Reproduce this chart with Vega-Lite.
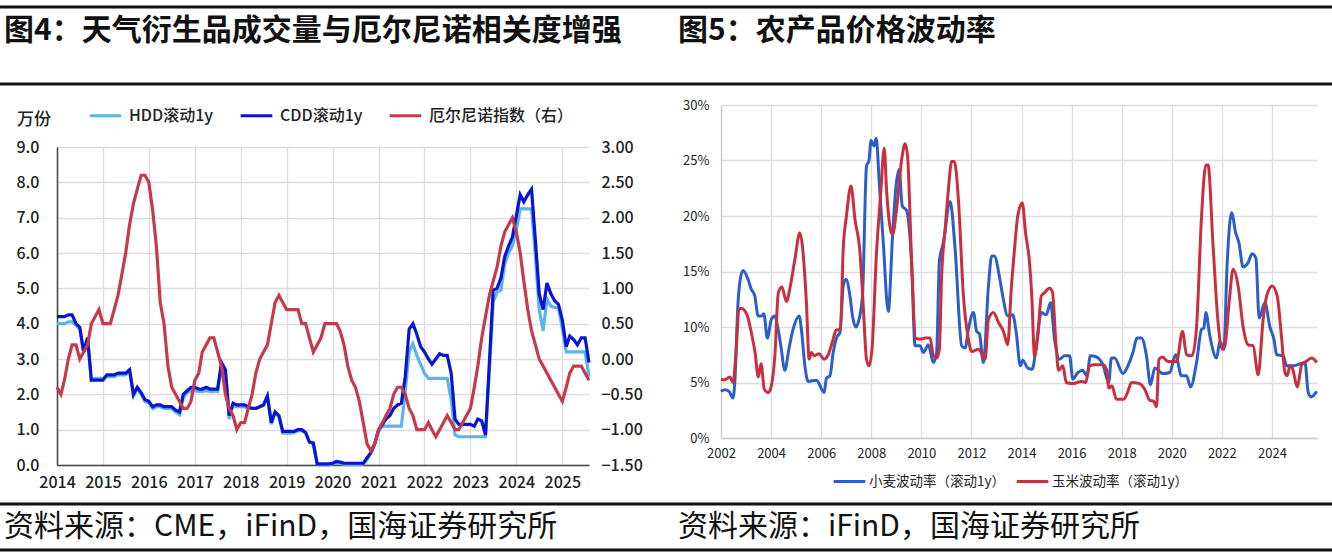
{
"$schema":"https://vega.github.io/schema/vega-lite/v6.json",
"background":"white",
"padding":{"top":5,"left":-2,"right":0,"bottom":0},
"autosize":{"type":"pad"},
"config":{"font":"Noto Sans CJK SC","view":{"stroke":null}},
"datasets":{
"nymex":[
{"m":"2014-01","hdd":4.0,"cdd":4.2,"enso":-0.4},{"m":"2014-02","hdd":4.0,"cdd":4.2,"enso":-0.5},{"m":"2014-03","hdd":4.0,"cdd":4.2,"enso":-0.3},{"m":"2014-04","hdd":4.05,"cdd":4.25,"enso":0.0},{"m":"2014-05","hdd":4.05,"cdd":4.25,"enso":0.2},{"m":"2014-06","hdd":3.95,"cdd":4.0,"enso":0.2},{"m":"2014-07","hdd":3.85,"cdd":3.9,"enso":0.0},{"m":"2014-08","hdd":3.2,"cdd":3.2,"enso":0.1},{"m":"2014-09","hdd":3.6,"cdd":3.6,"enso":0.2},{"m":"2014-10","hdd":2.4,"cdd":2.4,"enso":0.5},{"m":"2014-11","hdd":2.45,"cdd":2.4,"enso":0.6},{"m":"2014-12","hdd":2.45,"cdd":2.4,"enso":0.7},
{"m":"2015-01","hdd":2.45,"cdd":2.4,"enso":0.5},{"m":"2015-02","hdd":2.5,"cdd":2.55,"enso":0.5},{"m":"2015-03","hdd":2.5,"cdd":2.55,"enso":0.5},{"m":"2015-04","hdd":2.5,"cdd":2.55,"enso":0.7},{"m":"2015-05","hdd":2.55,"cdd":2.6,"enso":0.9},{"m":"2015-06","hdd":2.55,"cdd":2.6,"enso":1.2},{"m":"2015-07","hdd":2.55,"cdd":2.6,"enso":1.5},{"m":"2015-08","hdd":2.65,"cdd":2.7,"enso":1.9},{"m":"2015-09","hdd":1.95,"cdd":2.0,"enso":2.2},{"m":"2015-10","hdd":2.15,"cdd":2.2,"enso":2.4},{"m":"2015-11","hdd":2.0,"cdd":2.05,"enso":2.6},{"m":"2015-12","hdd":1.8,"cdd":1.85,"enso":2.6},
{"m":"2016-01","hdd":1.75,"cdd":1.8,"enso":2.5},{"m":"2016-02","hdd":1.6,"cdd":1.65,"enso":2.1},{"m":"2016-03","hdd":1.65,"cdd":1.7,"enso":1.6},{"m":"2016-04","hdd":1.65,"cdd":1.7,"enso":0.8},{"m":"2016-05","hdd":1.6,"cdd":1.65,"enso":0.5},{"m":"2016-06","hdd":1.6,"cdd":1.65,"enso":-0.1},{"m":"2016-07","hdd":1.6,"cdd":1.65,"enso":-0.4},{"m":"2016-08","hdd":1.5,"cdd":1.55,"enso":-0.5},{"m":"2016-09","hdd":1.42,"cdd":1.5,"enso":-0.6},{"m":"2016-10","hdd":1.9,"cdd":2.0,"enso":-0.7},{"m":"2016-11","hdd":2.05,"cdd":2.1,"enso":-0.7},{"m":"2016-12","hdd":2.1,"cdd":2.2,"enso":-0.6},
{"m":"2017-01","hdd":2.1,"cdd":2.2,"enso":-0.3},{"m":"2017-02","hdd":2.08,"cdd":2.15,"enso":-0.2},{"m":"2017-03","hdd":2.08,"cdd":2.15,"enso":0.1},{"m":"2017-04","hdd":2.1,"cdd":2.2,"enso":0.2},{"m":"2017-05","hdd":2.08,"cdd":2.15,"enso":0.3},{"m":"2017-06","hdd":2.08,"cdd":2.15,"enso":0.3},{"m":"2017-07","hdd":2.08,"cdd":2.15,"enso":0.1},{"m":"2017-08","hdd":2.8,"cdd":2.9,"enso":-0.1},{"m":"2017-09","hdd":2.6,"cdd":2.7,"enso":-0.5},{"m":"2017-10","hdd":1.3,"cdd":1.4,"enso":-0.7},{"m":"2017-11","hdd":1.7,"cdd":1.75,"enso":-0.8},{"m":"2017-12","hdd":1.65,"cdd":1.7,"enso":-1.0},
{"m":"2018-01","hdd":1.65,"cdd":1.7,"enso":-0.9},{"m":"2018-02","hdd":1.65,"cdd":1.7,"enso":-0.9},{"m":"2018-03","hdd":1.6,"cdd":1.65,"enso":-0.7},{"m":"2018-04","hdd":1.6,"cdd":1.6,"enso":-0.5},{"m":"2018-05","hdd":1.6,"cdd":1.6,"enso":-0.2},{"m":"2018-06","hdd":1.65,"cdd":1.65,"enso":0.0},{"m":"2018-07","hdd":1.7,"cdd":1.7,"enso":0.1},{"m":"2018-08","hdd":1.95,"cdd":1.95,"enso":0.2},{"m":"2018-09","hdd":1.15,"cdd":1.2,"enso":0.5},{"m":"2018-10","hdd":1.5,"cdd":1.5,"enso":0.8},{"m":"2018-11","hdd":1.35,"cdd":1.4,"enso":0.9},{"m":"2018-12","hdd":0.9,"cdd":0.95,"enso":0.8},
{"m":"2019-01","hdd":0.9,"cdd":0.95,"enso":0.7},{"m":"2019-02","hdd":0.9,"cdd":0.95,"enso":0.7},{"m":"2019-03","hdd":0.92,"cdd":0.95,"enso":0.7},{"m":"2019-04","hdd":0.97,"cdd":1.0,"enso":0.7},{"m":"2019-05","hdd":0.97,"cdd":1.0,"enso":0.5},{"m":"2019-06","hdd":0.9,"cdd":0.92,"enso":0.5},{"m":"2019-07","hdd":0.65,"cdd":0.65,"enso":0.3},{"m":"2019-08","hdd":0.6,"cdd":0.62,"enso":0.1},{"m":"2019-09","hdd":0.02,"cdd":0.03,"enso":0.2},{"m":"2019-10","hdd":0.0,"cdd":0.03,"enso":0.3},{"m":"2019-11","hdd":0.0,"cdd":0.03,"enso":0.5},{"m":"2019-12","hdd":0.0,"cdd":0.03,"enso":0.5},
{"m":"2020-01","hdd":0.03,"cdd":0.05,"enso":0.5},{"m":"2020-02","hdd":0.06,"cdd":0.1,"enso":0.5},{"m":"2020-03","hdd":0.05,"cdd":0.08,"enso":0.4},{"m":"2020-04","hdd":0.02,"cdd":0.05,"enso":0.2},{"m":"2020-05","hdd":0.02,"cdd":0.05,"enso":-0.1},{"m":"2020-06","hdd":0.02,"cdd":0.05,"enso":-0.3},{"m":"2020-07","hdd":0.02,"cdd":0.05,"enso":-0.4},{"m":"2020-08","hdd":0.02,"cdd":0.05,"enso":-0.6},{"m":"2020-09","hdd":0.03,"cdd":0.05,"enso":-0.9},{"m":"2020-10","hdd":0.15,"cdd":0.2,"enso":-1.2},{"m":"2020-11","hdd":0.35,"cdd":0.35,"enso":-1.3},{"m":"2020-12","hdd":0.6,"cdd":0.6,"enso":-1.2},
{"m":"2021-01","hdd":0.95,"cdd":1.0,"enso":-1.0},{"m":"2021-02","hdd":1.1,"cdd":1.15,"enso":-0.9},{"m":"2021-03","hdd":1.1,"cdd":1.3,"enso":-0.8},{"m":"2021-04","hdd":1.1,"cdd":1.4,"enso":-0.7},{"m":"2021-05","hdd":1.1,"cdd":1.6,"enso":-0.5},{"m":"2021-06","hdd":1.1,"cdd":1.7,"enso":-0.4},{"m":"2021-07","hdd":1.1,"cdd":1.75,"enso":-0.4},{"m":"2021-08","hdd":2.1,"cdd":2.5,"enso":-0.5},{"m":"2021-09","hdd":3.2,"cdd":3.85,"enso":-0.7},{"m":"2021-10","hdd":3.43,"cdd":4.0,"enso":-0.8},{"m":"2021-11","hdd":3.1,"cdd":3.7,"enso":-1.0},{"m":"2021-12","hdd":2.85,"cdd":3.35,"enso":-1.0},
{"m":"2022-01","hdd":2.6,"cdd":3.2,"enso":-1.0},{"m":"2022-02","hdd":2.45,"cdd":3.0,"enso":-0.9},{"m":"2022-03","hdd":2.45,"cdd":2.85,"enso":-1.0},{"m":"2022-04","hdd":2.45,"cdd":3.0,"enso":-1.1},{"m":"2022-05","hdd":2.45,"cdd":3.15,"enso":-1.0},{"m":"2022-06","hdd":2.45,"cdd":3.1,"enso":-0.9},{"m":"2022-07","hdd":2.45,"cdd":3.1,"enso":-0.8},{"m":"2022-08","hdd":1.85,"cdd":2.6,"enso":-0.9},{"m":"2022-09","hdd":0.85,"cdd":1.3,"enso":-1.0},{"m":"2022-10","hdd":0.8,"cdd":1.15,"enso":-1.0},{"m":"2022-11","hdd":0.8,"cdd":1.15,"enso":-0.9},{"m":"2022-12","hdd":0.8,"cdd":1.15,"enso":-0.8},
{"m":"2023-01","hdd":0.8,"cdd":1.15,"enso":-0.7},{"m":"2023-02","hdd":0.8,"cdd":1.1,"enso":-0.4},{"m":"2023-03","hdd":0.8,"cdd":1.3,"enso":-0.1},{"m":"2023-04","hdd":0.8,"cdd":1.25,"enso":0.3},{"m":"2023-05","hdd":0.8,"cdd":0.85,"enso":0.6},{"m":"2023-06","hdd":2.7,"cdd":2.9,"enso":0.9},{"m":"2023-07","hdd":4.6,"cdd":4.95,"enso":1.1},{"m":"2023-08","hdd":4.9,"cdd":5.0,"enso":1.3},{"m":"2023-09","hdd":4.95,"cdd":5.3,"enso":1.6},{"m":"2023-10","hdd":5.7,"cdd":5.9,"enso":1.8},{"m":"2023-11","hdd":6.0,"cdd":6.2,"enso":1.9},{"m":"2023-12","hdd":6.2,"cdd":6.45,"enso":2.0},
{"m":"2024-01","hdd":6.65,"cdd":7.05,"enso":1.8},{"m":"2024-02","hdd":7.25,"cdd":7.65,"enso":1.5},{"m":"2024-03","hdd":7.25,"cdd":7.45,"enso":1.1},{"m":"2024-04","hdd":7.25,"cdd":7.65,"enso":0.7},{"m":"2024-05","hdd":7.25,"cdd":7.8,"enso":0.4},{"m":"2024-06","hdd":5.9,"cdd":6.35,"enso":0.2},{"m":"2024-07","hdd":4.4,"cdd":4.85,"enso":0.0},{"m":"2024-08","hdd":3.8,"cdd":4.4,"enso":-0.1},{"m":"2024-09","hdd":4.7,"cdd":5.15,"enso":-0.2},{"m":"2024-10","hdd":4.5,"cdd":4.85,"enso":-0.3},{"m":"2024-11","hdd":4.45,"cdd":4.65,"enso":-0.4},{"m":"2024-12","hdd":4.45,"cdd":4.55,"enso":-0.5},
{"m":"2025-01","hdd":3.85,"cdd":4.1,"enso":-0.6},{"m":"2025-02","hdd":3.2,"cdd":3.35,"enso":-0.4},{"m":"2025-03","hdd":3.2,"cdd":3.65,"enso":-0.2},{"m":"2025-04","hdd":3.2,"cdd":3.55,"enso":-0.1},{"m":"2025-05","hdd":3.2,"cdd":3.4,"enso":-0.1},{"m":"2025-06","hdd":3.2,"cdd":3.6,"enso":-0.1},{"m":"2025-07","hdd":3.2,"cdd":3.6,"enso":-0.2},{"m":"2025-08","hdd":2.5,"cdd":2.9,"enso":-0.3}
],
"wheat":[
{"t":2002.0,"v":4.2},{"t":2002.15,"v":4.35},{"t":2002.32,"v":4.2},{"t":2002.48,"v":3.6},{"t":2002.55,"v":5.0},{"t":2002.68,"v":12.2},{"t":2002.77,"v":14.3},{"t":2002.88,"v":15.1},{"t":2003.08,"v":14.3},{"t":2003.21,"v":13.4},{"t":2003.35,"v":12.8},{"t":2003.48,"v":11},{"t":2003.61,"v":11},{"t":2003.71,"v":11.2},{"t":2003.85,"v":9.0},{"t":2004.01,"v":10.7},{"t":2004.15,"v":11},{"t":2004.28,"v":9.8},{"t":2004.39,"v":8.3},{"t":2004.55,"v":6.1},{"t":2004.71,"v":8},{"t":2004.88,"v":9.8},{"t":2005.12,"v":11},{"t":2005.21,"v":9.8},{"t":2005.35,"v":6.5},{"t":2005.48,"v":5.1},{"t":2005.81,"v":5.2},{"t":2006.12,"v":4.1},{"t":2006.21,"v":5.4},{"t":2006.35,"v":5.6},{"t":2006.48,"v":7.7},{"t":2006.61,"v":9},{"t":2006.75,"v":9.5},{"t":2006.88,"v":13.7},{"t":2006.99,"v":14.3},{"t":2007.15,"v":12.8},{"t":2007.25,"v":11},{"t":2007.39,"v":10},{"t":2007.48,"v":10.4},{"t":2007.65,"v":12.8},{"t":2007.81,"v":24.5},{"t":2007.91,"v":25},{"t":2007.99,"v":26.8},{"t":2008.11,"v":26.3},{"t":2008.2,"v":27},{"t":2008.32,"v":23},{"t":2008.48,"v":17.6},{"t":2008.68,"v":11.4},{"t":2008.85,"v":18.2},{"t":2008.99,"v":22.7},{"t":2009.11,"v":24.2},{"t":2009.24,"v":20.9},{"t":2009.41,"v":20.5},{"t":2009.61,"v":15.8},{"t":2009.75,"v":8.3},{"t":2009.95,"v":8.3},{"t":2010.08,"v":7.7},{"t":2010.28,"v":8.4},{"t":2010.48,"v":6.8},{"t":2010.61,"v":7.7},{"t":2010.72,"v":15.9},{"t":2010.88,"v":17.6},{"t":2011.15,"v":21.3},{"t":2011.35,"v":17},{"t":2011.61,"v":8.3},{"t":2011.75,"v":8.1},{"t":2011.88,"v":9.8},{"t":2012.08,"v":11.3},{"t":2012.21,"v":9.6},{"t":2012.32,"v":9.4},{"t":2012.48,"v":6.8},{"t":2012.68,"v":13.7},{"t":2012.81,"v":16.4},{"t":2012.91,"v":16.4},{"t":2013.13,"v":14.4},{"t":2013.25,"v":12.8},{"t":2013.45,"v":11},{"t":2013.65,"v":11.1},{"t":2013.79,"v":9.5},{"t":2013.95,"v":6.5},{"t":2014.05,"v":7},{"t":2014.25,"v":6.3},{"t":2014.43,"v":6.2},{"t":2014.59,"v":8.3},{"t":2014.79,"v":11.3},{"t":2014.99,"v":11.1},{"t":2015.16,"v":12.2},{"t":2015.32,"v":8.9},{"t":2015.52,"v":7.1},{"t":2015.72,"v":7.4},{"t":2015.92,"v":7.4},{"t":2016.05,"v":5.3},{"t":2016.25,"v":5.9},{"t":2016.45,"v":6.1},{"t":2016.61,"v":5.6},{"t":2016.75,"v":7.4},{"t":2016.99,"v":7.3},{"t":2017.25,"v":6.6},{"t":2017.48,"v":5},{"t":2017.59,"v":7.2},{"t":2017.72,"v":7.2},{"t":2018.05,"v":5.8},{"t":2018.25,"v":6.5},{"t":2018.45,"v":7.7},{"t":2018.61,"v":9},{"t":2018.79,"v":9},{"t":2018.99,"v":7.4},{"t":2019.15,"v":4.8},{"t":2019.32,"v":6.3},{"t":2019.65,"v":5.8},{"t":2019.92,"v":5.9},{"t":2020.15,"v":7.5},{"t":2020.39,"v":5.6},{"t":2020.59,"v":5.6},{"t":2020.75,"v":4.6},{"t":2020.99,"v":6.8},{"t":2021.19,"v":9.8},{"t":2021.28,"v":9.9},{"t":2021.36,"v":11.3},{"t":2021.52,"v":9.2},{"t":2021.79,"v":7.2},{"t":2021.92,"v":8.7},{"t":2022.08,"v":8},{"t":2022.21,"v":15.6},{"t":2022.39,"v":20.3},{"t":2022.55,"v":18.5},{"t":2022.68,"v":17.6},{"t":2022.85,"v":15.4},{"t":2023.05,"v":15.8},{"t":2023.21,"v":16.6},{"t":2023.36,"v":16.2},{"t":2023.49,"v":10.8},{"t":2023.72,"v":12.2},{"t":2023.92,"v":10},{"t":2024.08,"v":8.9},{"t":2024.19,"v":7.5},{"t":2024.45,"v":7.4},{"t":2024.59,"v":6.5},{"t":2024.85,"v":6.5},{"t":2025.32,"v":6.8},{"t":2025.45,"v":4.1},{"t":2025.56,"v":3.7},{"t":2025.79,"v":4.2}
],
"corn":[
{"t":2002.0,"v":5.3},{"t":2002.15,"v":5.25},{"t":2002.35,"v":5.5},{"t":2002.48,"v":5},{"t":2002.59,"v":7.4},{"t":2002.72,"v":11.6},{"t":2002.81,"v":11.7},{"t":2003.04,"v":11.1},{"t":2003.21,"v":9.5},{"t":2003.36,"v":7.7},{"t":2003.49,"v":5.5},{"t":2003.6,"v":6.7},{"t":2003.73,"v":4.4},{"t":2003.89,"v":4.1},{"t":2004.01,"v":4.7},{"t":2004.15,"v":7.4},{"t":2004.29,"v":13.1},{"t":2004.43,"v":13.6},{"t":2004.61,"v":12.3},{"t":2004.77,"v":13.7},{"t":2004.95,"v":16.1},{"t":2005.15,"v":18.5},{"t":2005.25,"v":17.3},{"t":2005.41,"v":12.2},{"t":2005.52,"v":7.1},{"t":2005.61,"v":7.7},{"t":2005.71,"v":7.4},{"t":2005.92,"v":7.6},{"t":2006.11,"v":7.1},{"t":2006.28,"v":7.5},{"t":2006.48,"v":8.9},{"t":2006.59,"v":9.7},{"t":2006.77,"v":9.8},{"t":2006.88,"v":17},{"t":2007.01,"v":20},{"t":2007.19,"v":22.7},{"t":2007.35,"v":19.7},{"t":2007.55,"v":16.7},{"t":2007.68,"v":11.9},{"t":2007.81,"v":7.1},{"t":2007.91,"v":6.5},{"t":2008.03,"v":8},{"t":2008.21,"v":16.7},{"t":2008.37,"v":21.8},{"t":2008.52,"v":26.1},{"t":2008.61,"v":22.4},{"t":2008.75,"v":19},{"t":2008.85,"v":18.3},{"t":2009.01,"v":20.6},{"t":2009.21,"v":25},{"t":2009.35,"v":26.5},{"t":2009.45,"v":25.4},{"t":2009.61,"v":16},{"t":2009.77,"v":9},{"t":2009.95,"v":8.9},{"t":2010.15,"v":9},{"t":2010.35,"v":9},{"t":2010.48,"v":7.4},{"t":2010.61,"v":7.2},{"t":2010.72,"v":8},{"t":2010.81,"v":14.6},{"t":2010.95,"v":18.8},{"t":2011.08,"v":22.4},{"t":2011.21,"v":24.9},{"t":2011.32,"v":24.9},{"t":2011.48,"v":21.5},{"t":2011.68,"v":12.8},{"t":2011.88,"v":8.9},{"t":2012.01,"v":7.8},{"t":2012.28,"v":8},{"t":2012.55,"v":7.1},{"t":2012.68,"v":10.7},{"t":2012.88,"v":11.3},{"t":2013.08,"v":10.4},{"t":2013.28,"v":9.6},{"t":2013.45,"v":8.4},{"t":2013.59,"v":13.4},{"t":2013.72,"v":17},{"t":2013.85,"v":20},{"t":2014.03,"v":21.2},{"t":2014.16,"v":18.5},{"t":2014.32,"v":15.8},{"t":2014.41,"v":12.8},{"t":2014.52,"v":7.4},{"t":2014.65,"v":9.2},{"t":2014.79,"v":12.8},{"t":2014.92,"v":13.1},{"t":2015.12,"v":13.5},{"t":2015.23,"v":13.2},{"t":2015.39,"v":8},{"t":2015.48,"v":6.1},{"t":2015.65,"v":6.5},{"t":2015.79,"v":5},{"t":2016.05,"v":4.9},{"t":2016.39,"v":5.1},{"t":2016.56,"v":5},{"t":2016.72,"v":6.5},{"t":2016.92,"v":6.6},{"t":2017.25,"v":6.6},{"t":2017.39,"v":6.2},{"t":2017.49,"v":4.5},{"t":2017.61,"v":4.7},{"t":2017.79,"v":3.5},{"t":2018.08,"v":3.5},{"t":2018.25,"v":4.2},{"t":2018.39,"v":5},{"t":2018.72,"v":4.9},{"t":2018.92,"v":4.4},{"t":2019.12,"v":3.4},{"t":2019.28,"v":3.3},{"t":2019.39,"v":2.8},{"t":2019.49,"v":7.1},{"t":2019.63,"v":7.3},{"t":2019.85,"v":6.9},{"t":2020.19,"v":6.9},{"t":2020.43,"v":9.6},{"t":2020.59,"v":7.5},{"t":2020.81,"v":7.4},{"t":2020.99,"v":10},{"t":2021.19,"v":20},{"t":2021.36,"v":24.6},{"t":2021.45,"v":24.6},{"t":2021.65,"v":17.3},{"t":2021.85,"v":10.4},{"t":2022.01,"v":8},{"t":2022.12,"v":8.3},{"t":2022.29,"v":12.2},{"t":2022.45,"v":15.2},{"t":2022.65,"v":13.7},{"t":2022.85,"v":10},{"t":2023.05,"v":8.4},{"t":2023.25,"v":8.3},{"t":2023.45,"v":5.7},{"t":2023.65,"v":10.7},{"t":2023.79,"v":12.8},{"t":2024.01,"v":13.7},{"t":2024.21,"v":12.8},{"t":2024.39,"v":8.9},{"t":2024.52,"v":5.9},{"t":2024.61,"v":5.6},{"t":2024.72,"v":6.5},{"t":2024.83,"v":6.2},{"t":2025.01,"v":4.6},{"t":2025.19,"v":6.6},{"t":2025.36,"v":6.9},{"t":2025.59,"v":7.2},{"t":2025.79,"v":6.8}
]
},
"vconcat":[
{"width":1275,"height":77,
 "layer":[
  {"data":{"values":[{"edge":"top"},{"edge":"bottom"}]},
   "mark":{"type":"rule","color":"#111111","strokeWidth":3},
   "encoding":{"x":{"datum":0,"type":"quantitative","scale":{"domain":[0,1],"range":[-57,1275],"nice":false,"zero":false},"axis":null},"x2":{"datum":1},
     "y":{"field":"edge","type":"nominal","scale":{"type":"point","padding":0,"domain":["top","bottom"]},"axis":null}}},
  {"data":{"values":[{"panel":"图4","label":"图4：天气衍生品成交量与厄尔尼诺相关度增强"},{"panel":"图5","label":"图5：农产品价格波动率"}]},
   "mark":{"type":"text","align":"left","baseline":"middle","fontSize":30,"fontWeight":"bold","color":"#111111","dy":-15},
   "encoding":{"x":{"field":"panel","type":"nominal","scale":{"type":"point","padding":0,"domain":["图4","图5"],"range":[-53,621]},"axis":null},"text":{"field":"label"}}}
 ],"resolve":{"scale":{"x":"independent"}}},
{"hconcat":[
 {"vconcat":[
  {"width":532,"height":42,
   "data":{"values":[{"unit":"万份"}]},
   "mark":{"type":"text","align":"left","baseline":"middle","fontSize":17,"fontWeight":500,"color":"#222222","dx":-306,"dy":-6},
   "encoding":{"text":{"field":"unit"}}},
  {"width":532,"height":318,
  "resolve":{"scale":{"y":"independent"},"axis":{"y":"independent"}},
  "data":{"name":"nymex"},
  "encoding":{"x":{"field":"m","type":"temporal","scale":{"type":"utc","domain":["2014-01-01","2025-08-01"]},
     "axis":{"title":null,"tickCount":{"interval":"year","step":1},"format":"%Y","labelFontSize":16,"labelFontWeight":500,"labelColor":"#222222","labelPadding":9,"labelOverlap":false,"labelFlush":false,"grid":true,"gridColor":"#dddddd","gridWidth":1.3,"domainColor":"#444444","domainWidth":1.5,"tickColor":"#444444","tickSize":0}}},
  "layer":[
   {"layer":[
    {"mark":{"type":"line","strokeWidth":3.2},
     "encoding":{"y":{"field":"hdd","type":"quantitative","scale":{"domain":[0,9]},
        "axis":{"title":null,"tickCount":10,"format":".1f","labelFontSize":16,"labelFontWeight":500,"labelColor":"#222222","labelPadding":18,"minExtent":55,"grid":true,"gridColor":"#dddddd","gridWidth":1.3,"domainColor":"#444444","domainWidth":1.5,"ticks":false}},
      "color":{"datum":"HDD滚动1y","type":"nominal","scale":{"domain":["HDD滚动1y","CDD滚动1y","厄尔尼诺指数（右）"],"range":["#5BB5E6","#0A14D2","#C43C4C"]},
        "legend":{"title":null,"orient":"none","direction":"horizontal","columns":3,"legendX":31,"legendY":-7,"padding":0,"symbolType":"stroke","symbolSize":1000,"symbolStrokeWidth":3,"labelFontSize":16,"labelFontWeight":500,"labelColor":"#222222","labelOffset":6,"columnPadding":20,"gridAlign":"each"}}}},
    {"mark":{"type":"line","strokeWidth":3.2},
     "encoding":{"y":{"field":"cdd","type":"quantitative"},"color":{"datum":"CDD滚动1y","type":"nominal"}}}
   ]},
   {"mark":{"type":"line","strokeWidth":3.2},
    "encoding":{"y":{"field":"enso","type":"quantitative","scale":{"domain":[-1.5,3]},
       "axis":{"title":null,"orient":"right","tickCount":10,"format":".2f","labelFontSize":16,"labelFontWeight":500,"labelColor":"#222222","labelPadding":12,"minExtent":44,"grid":false,"domain":false,"ticks":false}},
     "color":{"datum":"厄尔尼诺指数（右）","type":"nominal"}}}
  ]}
 ],"bounds":"flush","spacing":0},
 {"width":596,"height":333,
  "encoding":{"x":{"field":"t","type":"quantitative","scale":{"domain":[2002,2025.8],"nice":false},
     "axis":{"title":null,"values":[2002,2004,2006,2008,2010,2012,2014,2016,2018,2020,2022,2024],"format":"d","labelFontSize":13,"labelColor":"#222222","labelPadding":9,"labelFlush":false,"grid":true,"gridColor":"#dddddd","gridWidth":1.3,"domainColor":"#cccccc","domainWidth":1.3,"ticks":false}},
    "y":{"field":"v","type":"quantitative","scale":{"domain":[0,30]},
     "axis":{"title":null,"values":[0,5,10,15,20,25,30],"labelExpr":"datum.value+'%'","labelFontSize":13,"labelColor":"#222222","labelPadding":12,"minExtent":48,"grid":true,"gridColor":"#dddddd","gridWidth":1.3,"domainColor":"#cccccc","domainWidth":1.3,"ticks":false}}},
  "layer":[
   {"data":{"name":"wheat"},"mark":{"type":"line","strokeWidth":3,"interpolate":"monotone"},
    "encoding":{"color":{"datum":"小麦波动率（滚动1y）","type":"nominal","scale":{"domain":["小麦波动率（滚动1y）","玉米波动率（滚动1y）"],"range":["#2A5FCB","#C8303F"]},
      "legend":{"title":null,"orient":"none","direction":"horizontal","columns":2,"legendX":111,"legendY":359,"padding":0,"symbolType":"stroke","symbolSize":1000,"symbolStrokeWidth":3,"labelFontSize":13.5,"labelColor":"#222222","labelOffset":2,"columnPadding":4,"gridAlign":"each"}}}},
   {"data":{"name":"corn"},"mark":{"type":"line","strokeWidth":3,"interpolate":"monotone"},
    "encoding":{"color":{"datum":"玉米波动率（滚动1y）","type":"nominal"}}}
  ]}
 ],"spacing":30,"resolve":{"scale":{"color":"independent"},"legend":{"color":"independent"}}},
{"width":1275,"height":46,
 "layer":[
  {"data":{"values":[{"edge":"top"},{"edge":"bottom"}]},
   "mark":{"type":"rule","color":"#111111","strokeWidth":3},
   "encoding":{"x":{"datum":0,"type":"quantitative","scale":{"domain":[0,1],"range":[-57,1275],"nice":false,"zero":false},"axis":null},"x2":{"datum":1},
     "y":{"field":"edge","type":"nominal","scale":{"type":"point","padding":0,"domain":["top","bottom"]},"axis":null}}},
  {"data":{"values":[{"panel":"图4","label":"资料来源：CME，iFinD，国海证券研究所"},{"panel":"图5","label":"资料来源：iFinD，国海证券研究所"}]},
   "mark":{"type":"text","align":"left","baseline":"middle","fontSize":30,"color":"#111111"},
   "encoding":{"x":{"field":"panel","type":"nominal","scale":{"type":"point","padding":0,"domain":["图4","图5"],"range":[-53,621]},"axis":null},"text":{"field":"label"}}}
 ],"resolve":{"scale":{"x":"independent"}}}
],"spacing":12,"resolve":{"scale":{"color":"independent"},"legend":{"color":"independent"}}
}
